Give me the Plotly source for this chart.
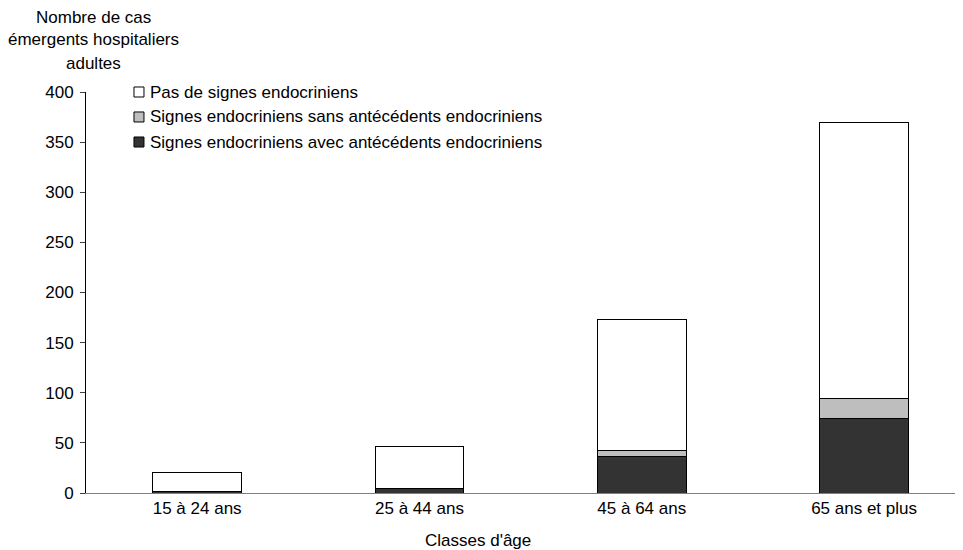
import plotly.graph_objects as go

# Classes d'âge
age_classes = ["15 à 24 ans", "25 à 44 ans", "45 à 64 ans", "65 ans et plus"]

# nombre de cas émergents hospitaliers adultes, par catégorie
avec_antecedents = [2, 4, 36, 74]
sans_antecedents = [0, 0, 6, 20]
pas_de_signes = [18, 42, 131, 276]

FONT = "Arial, Liberation Sans, sans-serif"
FS = 17

fig = go.Figure()
series = [
    ("Signes endocriniens avec antécédents endocriniens", avec_antecedents, "#333333"),
    ("Signes endocriniens sans antécédents endocriniens", sans_antecedents, "#bebebe"),
    ("Pas de signes endocriniens", pas_de_signes, "#ffffff"),
]
for name, vals, col in series:
    fig.add_trace(go.Bar(
        x=age_classes, y=vals, name=name,
        marker=dict(color=col, line=dict(color="#000000", width=1)),
        width=0.4,
    ))

# page has an 8px body margin, margins compensate for it
fig.update_layout(
    barmode="stack",
    width=963, height=550,
    margin=dict(l=78, r=8, t=84, b=65),
    plot_bgcolor="white", paper_bgcolor="white",
    font=dict(family=FONT, size=FS, color="#000000"),
    showlegend=False,
    xaxis=dict(
        range=[-0.5, 3.445],
        showline=True, linecolor="#808080", linewidth=1,
        ticks="", showgrid=False, zeroline=False,
        tickfont=dict(size=FS),
    ),
    yaxis=dict(
        range=[0, 400], dtick=50,
        showline=True, linecolor="#000000", linewidth=1,
        ticks="outside", ticklen=5, tickcolor="#404040",
        ticklabelstandoff=3,
        showgrid=False, zeroline=False,
        tickfont=dict(size=FS),
    ),
)

# legend drawn by hand (keys close to the text, as in the original)
legend_rows = [1.0, 0.9377, 0.8753]
half = 0.0125
for (name, vals, col), yy in zip(series[::-1], legend_rows):
    fig.add_shape(type="rect", xref="paper", yref="paper",
                  x0=0.0547, x1=0.0661, y0=yy - half, y1=yy + half,
                  fillcolor=col, line=dict(color="#000000", width=1))
    fig.add_annotation(text=name, xref="paper", yref="paper", x=0.0707, y=yy,
                       xanchor="left", yanchor="middle", showarrow=False,
                       font=dict(size=FS))

ytitle = ["Nombre de cas", "émergents hospitaliers", "adultes"]
for txt, yy in zip(ytitle, [1.187, 1.130, 1.072]):
    fig.add_annotation(text=txt, xref="paper", yref="paper", x=0.0086, y=yy,
                       xanchor="center", yanchor="middle", showarrow=False,
                       font=dict(size=FS))

fig.add_annotation(text="Classes d'âge", xref="paper", yref="paper", x=0.447, y=-0.118,
                   xanchor="center", yanchor="middle", showarrow=False,
                   font=dict(size=FS))

fig.write_html("out.html")
